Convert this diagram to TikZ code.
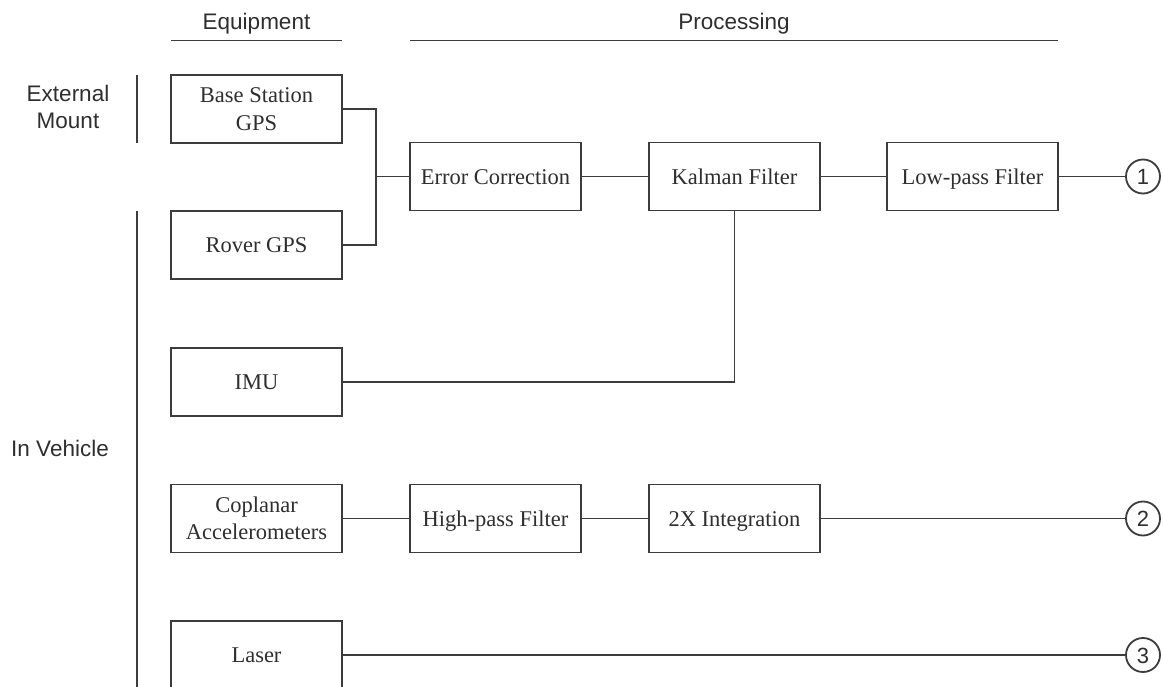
\documentclass[tikz,border=0pt]{standalone}
\usepackage{fontspec}
\setmainfont{Liberation Serif}
\newfontfamily\hdfont{Liberation Sans}
\definecolor{lc}{HTML}{3C3C3C}
\definecolor{tc}{HTML}{2E2E2E}
\begin{document}
\begin{tikzpicture}[x=1pt,y=-1pt,
  box/.style={draw=lc, line width=1.8pt, minimum width=171pt, minimum height=68pt, inner sep=0pt,
    align=center, text=tc, font=\fontsize{22.5}{27.5}\selectfont},
  onebox/.style={box, text height=15.6pt, text depth=0pt},
  wire/.style={draw=lc, line width=1.8pt},
  num/.style={circle, draw=lc, line width=1.8pt, minimum size=34pt, inner sep=0pt, text=tc,
    text height=16pt, text depth=0pt, font=\hdfont\fontsize{22}{26}\selectfont},
  head/.style={text=tc, align=center, inner sep=0pt, font=\hdfont\fontsize{22.5}{27.5}\selectfont}]
\useasboundingbox (0,0) rectangle (1163,687);
\clip (0,0) rectangle (1163,687);
% headings
\node[head, anchor=base] (equip) at (256.5,30) {Equipment};
\node[head, anchor=base] (proc) at (734,30) {Processing};
\node[head] (ext) at (68,107) {External\\Mount};
\node[head, anchor=base] (veh) at (60,456) {In Vehicle};
\draw[wire] (171,40.5) coordinate (eqa) -- (342,40.5) coordinate (eqb);
\draw[wire] (410,40.5) coordinate (pra) -- (1058,40.5) coordinate (prb);
\draw[wire] (137,75) coordinate (ma) -- (137,143) coordinate (mb);
\draw[wire] (137,211) coordinate (va) -- (137,700) coordinate (vb);
% boxes
\node[box] (base) at (256.5,109) {Base Station\\GPS};
\node[onebox] (rover) at (256.5,245) {Rover GPS};
\node[onebox] (imu) at (256.5,382) {IMU};
\node[box] (copl) at (256.5,518.5) {Coplanar\\Accelerometers};
\node[onebox] (laser) at (256.5,655) {Laser};
\node[onebox] (err) at (495.5,176.5) {Error Correction};
\node[onebox] (kal) at (734.5,176.5) {Kalman Filter};
\node[onebox] (low) at (972.5,176.5) {Low-pass Filter};
\node[onebox] (hp) at (495.5,518.5) {High-pass Filter};
\node[onebox] (int) at (734.5,518.5) {2X Integration};
\node[num] (c1) at (1143,176.5) {1};
\node[num] (c2) at (1143,518.5) {2};
\node[num] (c3) at (1143,655) {3};
% connectors
\coordinate (j) at (376,176.5);
\draw[wire] (base.east) -| (j) |- (rover.east);
\draw[wire] (j) -- (err.west);
\draw[wire] (err) -- (kal);
\draw[wire] (kal) -- (low);
\draw[wire] (low) -- (c1);
\draw[wire] (imu.east) -| (kal.south);
\draw[wire] (copl) -- (hp);
\draw[wire] (hp) -- (int);
\draw[wire] (int) -- (c2);
\draw[wire] (laser) -- (c3);
\end{tikzpicture}
\end{document}
